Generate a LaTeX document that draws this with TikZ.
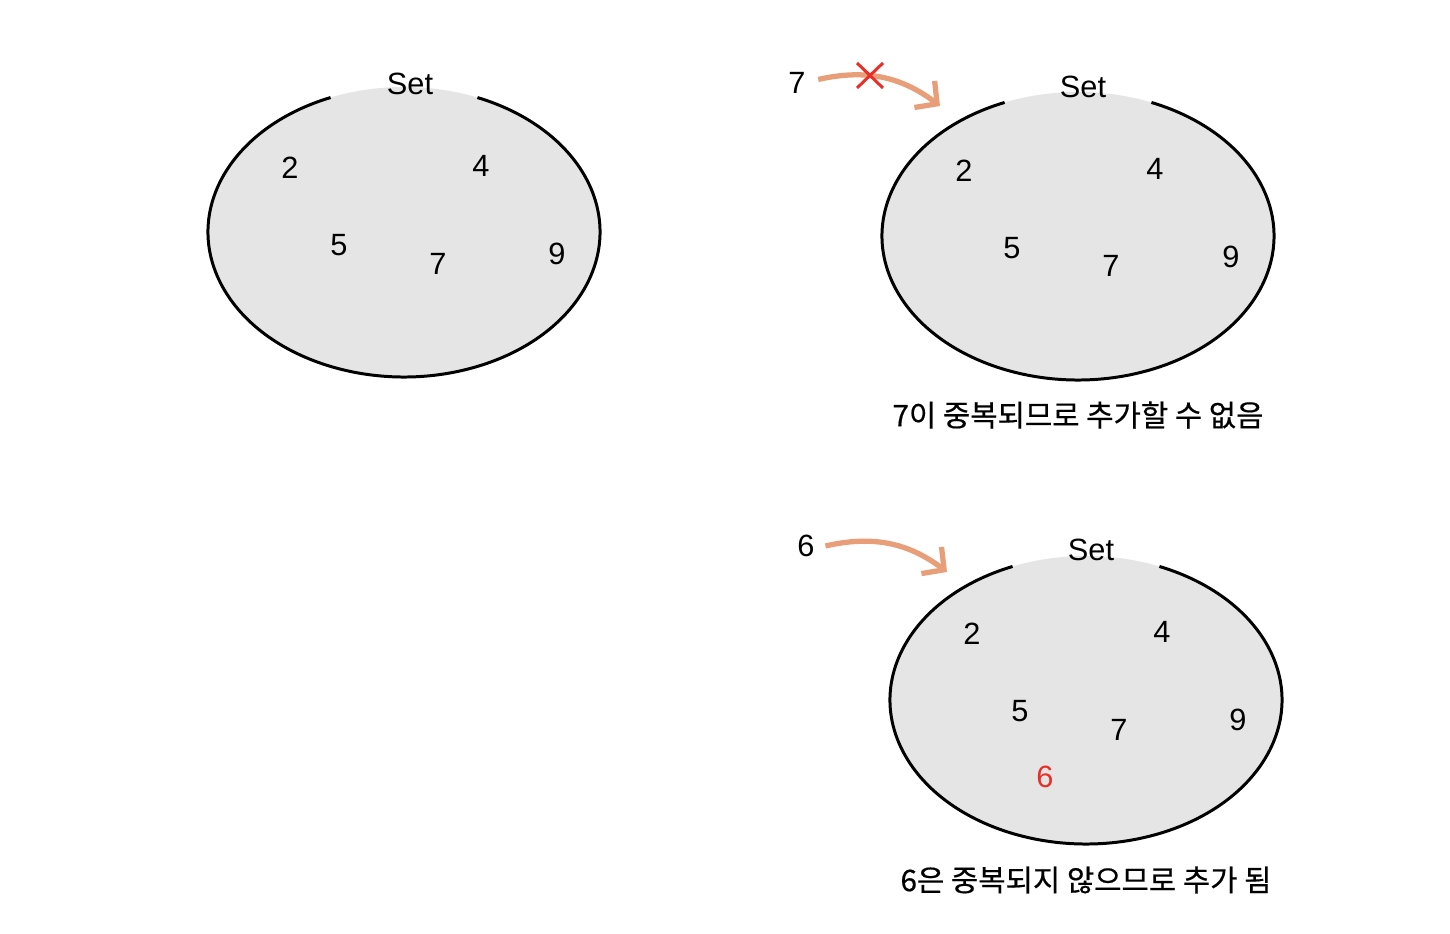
\documentclass[tikz,border=0pt]{standalone}
\usepackage{fontspec}
\setmainfont{Liberation Sans}
\newfontfamily\krfont{Noto Sans CJK KR}[BoldFont={Noto Sans CJK KR}, BoldFeatures={FakeBold=0.5}]
\usetikzlibrary{arrows.meta,positioning}

\definecolor{setfill}{RGB}{229,229,229}
\definecolor{flowc}{RGB}{232,158,120}
\definecolor{dupred}{RGB}{232,48,40}

\tikzset{
  num/.style={font=\fontsize{17.5}{20}\selectfont, inner sep=1pt},
  caption/.style={font=\krfont\bfseries\fontsize{16.9}{20}\selectfont, inner sep=1pt},
  setrim/.style={line width=1.7pt},
  flow/.style={draw=flowc, line width=3pt, -{Straight Barb[length=9pt,width=19pt]}}
}

\begin{document}
\begin{tikzpicture}

\useasboundingbox (0,0) rectangle (29,18.68);

% Set on the left
\begin{scope}[shift={(8.08,14.04)}]
\fill[setfill] (0,0) ellipse [x radius=3.92, y radius=2.9];
\draw[setrim] (112:3.92 and 2.9) arc[start angle=112, end angle=428, x radius=3.92, y radius=2.9];
\node[num] (a-set) at (0.12,2.96) {Set};
\node[num] (a-2) at (-2.28,1.28) {2};
\node[num] (a-4) at (1.54,1.32) {4};
\node[num] (a-5) at (-1.3,-0.26) {5};
\node[num] (a-7) at (0.68,-0.64) {7};
\node[num] (a-9) at (3.06,-0.44) {9};
\end{scope}

% Set on the upper right (7 is rejected)
\begin{scope}[shift={(21.56,13.96)}]
\fill[setfill] (0,0) ellipse [x radius=3.92, y radius=2.88];
\draw[setrim] (112:3.92 and 2.88) arc[start angle=112, end angle=428, x radius=3.92, y radius=2.88];
\node[num] (b-set) at (0.1,2.98) {Set};
\node[num] (b-2) at (-2.28,1.3) {2};
\node[num] (b-4) at (1.54,1.34) {4};
\node[num] (b-5) at (-1.32,-0.24) {5};
\node[num] (b-7) at (0.66,-0.6) {7};
\node[num] (b-9) at (3.06,-0.42) {9};
\coordinate (b-in) at (-2.76,2.6);
\node[caption] (b-cap) at (0,-3.58) {7이 중복되므로 추가할 수 없음};
\end{scope}

% Incoming 7
\node[num] (b-new) at (15.94,17.02) {7};
\draw[flow] ([xshift=6pt,yshift=2pt]b-new.east) to[bend left=25] (b-in);
% Cross on the arrow
\draw[dupred, line width=1.7pt] (17.14,16.92) -- (17.66,17.42)
                                 (17.14,17.42) -- (17.66,16.92);

% Set on the lower right (6 is added)
\begin{scope}[shift={(21.72,4.68)}]
\fill[setfill] (0,0) ellipse [x radius=3.92, y radius=2.88];
\draw[setrim] (112:3.92 and 2.88) arc[start angle=112, end angle=428, x radius=3.92, y radius=2.88];
\node[num] (c-set) at (0.1,3.0) {Set};
\node[num] (c-2) at (-2.28,1.32) {2};
\node[num] (c-4) at (1.52,1.36) {4};
\node[num] (c-5) at (-1.32,-0.22) {5};
\node[num] (c-7) at (0.66,-0.6) {7};
\node[num] (c-9) at (3.04,-0.4) {9};
\node[num, text=dupred] (c-6) at (-0.82,-1.54) {6};
\coordinate (c-in) at (-2.78,2.56);
\node[caption] (c-cap) at (0,-3.6) {6은 중복되지 않으므로 추가 됨};
\end{scope}

% Incoming 6
\node[num] (c-new) at (16.12,7.76) {6};
\draw[flow] ([xshift=5pt]c-new.east) to[bend left=25] (c-in);

\end{tikzpicture}
\end{document}
